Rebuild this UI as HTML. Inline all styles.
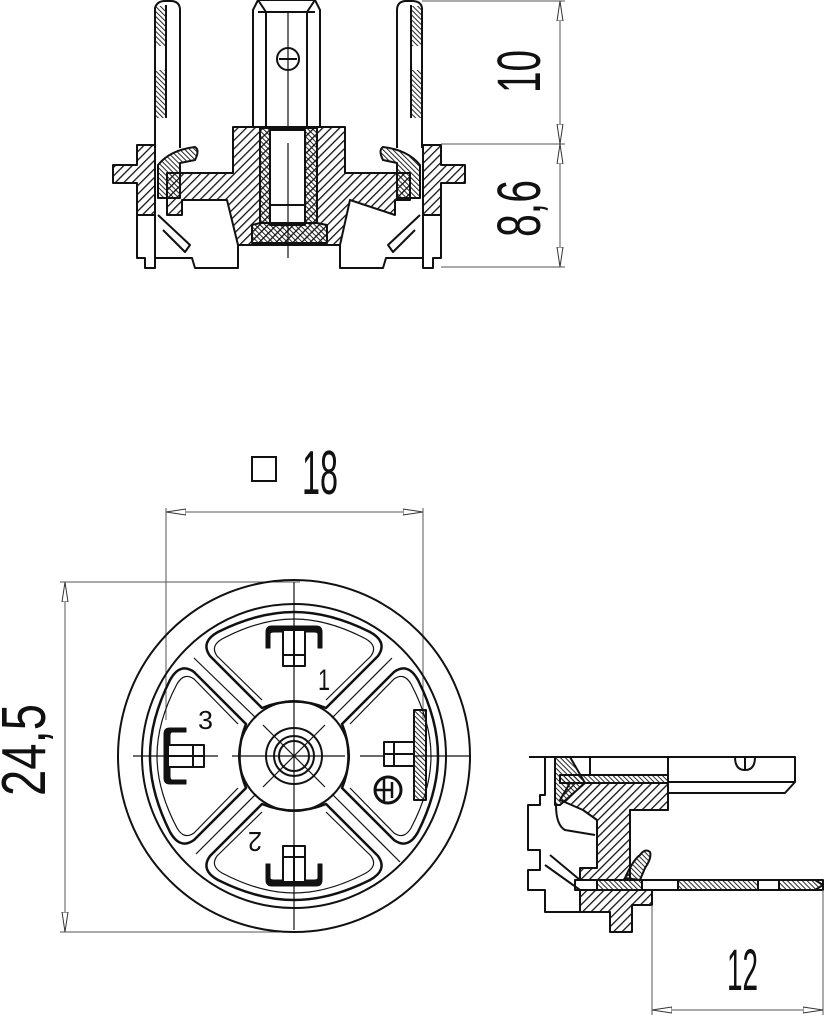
<!DOCTYPE html>
<html><head><meta charset="utf-8"><style>
html,body{margin:0;padding:0;background:#fff}
svg{display:block}
text{font-family:"Liberation Sans",sans-serif;fill:#111}
</style></head><body>
<svg width="825" height="1017" viewBox="0 0 825 1017" xmlns="http://www.w3.org/2000/svg">
<defs>
<pattern id="h" patternUnits="userSpaceOnUse" width="6" height="6" patternTransform="rotate(45)">
<line x1="0" y1="0" x2="0" y2="6" stroke="#111" stroke-width="2.6"/>
</pattern>
<pattern id="hf" patternUnits="userSpaceOnUse" width="3.5" height="3.5" patternTransform="rotate(-45)">
<line x1="0" y1="0" x2="0" y2="3.5" stroke="#111" stroke-width="1.8"/>
</pattern>
<marker id="a" viewBox="0 0 20 8" refX="20" refY="4" markerWidth="20" markerHeight="8" markerUnits="userSpaceOnUse" orient="auto-start-reverse">
<path d="M20,4 L0,1 L0,7 Z" fill="#fff" stroke="#333" stroke-width="1"/>
</marker>
</defs>

<!-- ============ TOP VIEW ============ -->
<g stroke="#111" stroke-width="2" fill="none" stroke-linejoin="round">
 <path d="M155,148 L155,8 Q157,1 165,1 L172,1 Q180,2 180,10 L180,148" fill="#fff"/>
 <rect x="155" y="6" width="11" height="40" fill="url(#hf)" stroke="none"/>
 <rect x="155" y="70" width="11" height="48" fill="url(#hf)" stroke="none"/>
 <line x1="166" y1="5" x2="166" y2="118"/>
 <path d="M397,148 L397,10 Q397,2 405,1 L412,1 Q421,1 422,8 L422,148" fill="#fff"/>
 <rect x="411" y="6" width="11" height="40" fill="url(#hf)" stroke="none"/>
 <rect x="411" y="70" width="11" height="48" fill="url(#hf)" stroke="none"/>
 <line x1="411" y1="5" x2="411" y2="118"/>
 <path d="M253,127 L253,10 L258,0 L315,0 L320,10 L320,127" fill="#fff"/>
 <line x1="258" y1="12" x2="315" y2="12"/>
 <line x1="266" y1="12" x2="266" y2="127"/><line x1="307" y1="12" x2="307" y2="127"/>
 <line x1="258" y1="0" x2="266" y2="12"/><line x1="315" y1="0" x2="307" y2="12"/>
 <circle cx="288" cy="59" r="11"/>
 <line x1="279" y1="59" x2="297" y2="59"/>
 <line x1="288" y1="12" x2="288" y2="127" stroke-width="1.2"/>
 <path d="M113,165 L137,165 L137,145 L155,145 L155,215 L137,215 L137,183 L113,183 Z" fill="url(#h)"/>
 <path d="M465,165 L441,165 L441,145 L423,145 L423,215 L441,215 L441,183 L465,183 Z" fill="url(#h)"/>
 <path d="M167,173 L233,173 L233,127 L345,127 L345,173 L410,173 L410,200 L395,200 L395,215 L350,200 L340,245 L238,245 L227,200 L182,200 L182,215 L167,215 Z" fill="url(#h)"/>
 <path d="M158,198 L158,165 Q170,150 195,147 Q200,150 195,160 L180,163 L180,198 Z" fill="url(#hf)"/>
 <path d="M420,198 L420,165 Q408,150 383,147 Q378,150 383,160 L397,163 L397,198 Z" fill="url(#hf)"/>
 <rect x="260" y="128" width="57" height="95" fill="url(#hf)"/>
 <rect x="270" y="130" width="35" height="95" fill="#fff"/>
 <line x1="270" y1="205" x2="305" y2="205"/>
 <path d="M252,225 L260,223 L317,223 L327,225 L327,243 L252,243 Z" fill="url(#hf)"/>
 <line x1="288" y1="143" x2="288" y2="258" stroke-width="1.2"/>
 <path d="M137,215 L137,258 L145,258 L145,268 L155,268 L155,258 L192,258 L195,268 L238,268 L238,245"/>
 <path d="M441,215 L441,258 L433,258 L433,268 L423,268 L423,258 L386,258 L383,268 L340,268 L340,245"/>
 <line x1="155" y1="215" x2="155" y2="258"/><line x1="423" y1="215" x2="423" y2="258"/>
 <path d="M158,215 L190,245 L185,252 L163,230"/>
 <path d="M420,215 L388,245 L393,252 L415,230"/>
</g>
<g stroke="#555" stroke-width="1">
 <line x1="422" y1="1" x2="565" y2="1"/>
 <line x1="441" y1="144" x2="565" y2="144"/>
 <line x1="441" y1="267" x2="565" y2="267"/>
 <line x1="560" y1="1" x2="560" y2="144" marker-start="url(#a)" marker-end="url(#a)"/>
 <line x1="560" y1="144" x2="560" y2="267" marker-start="url(#a)" marker-end="url(#a)"/>
</g>
<text transform="translate(540,93) rotate(-90)" font-size="61" textLength="43" lengthAdjust="spacingAndGlyphs">10</text>
<text transform="translate(540,237) rotate(-90)" font-size="61" textLength="57" lengthAdjust="spacingAndGlyphs">8,6</text>

<!-- ============ BOTTOM VIEW ============ -->
<g stroke="#555" stroke-width="1" fill="none">
 <line x1="166" y1="512" x2="423" y2="512" marker-start="url(#a)" marker-end="url(#a)"/>
 <line x1="166" y1="508" x2="166" y2="720"/>
 <line x1="423" y1="508" x2="423" y2="720"/>
 <line x1="60" y1="582" x2="300" y2="582"/>
 <line x1="60" y1="932" x2="300" y2="932"/>
 <line x1="65" y1="582" x2="65" y2="932" marker-start="url(#a)" marker-end="url(#a)"/>
</g>
<rect x="252" y="457" width="24" height="24" fill="none" stroke="#111" stroke-width="2"/>
<text x="302" y="494" font-size="62" textLength="36" lengthAdjust="spacingAndGlyphs">18</text>
<text transform="translate(45,796) rotate(-90)" font-size="62" textLength="92" lengthAdjust="spacingAndGlyphs">24,5</text>

<g stroke="#111" stroke-width="2" fill="none" stroke-linejoin="round">
 <circle cx="294" cy="756" r="176"/>
 <circle cx="294" cy="756" r="152"/>
 <circle cx="294" cy="756" r="55"/>
 <circle cx="294" cy="756" r="28"/>
 <circle cx="294" cy="756" r="20"/>
 <circle cx="294" cy="756" r="15"/>
 <g id="win">
  <path d="M262,708 L210,656 Q200,642 218,632 Q258,612 294,612 Q330,612 370,632 Q388,642 378,656 L326,708 Q294,695 262,708 Z" stroke-width="2.5"/>
  <path d="M262,700 L217,656 Q210,646 222,639 Q260,619 294,619 Q328,619 366,639 Q378,646 371,656 L326,700" stroke-width="1.2"/>
 </g>
 <use href="#win" transform="rotate(90 294 756)"/>
 <use href="#win" transform="rotate(180 294 756)"/>
 <use href="#win" transform="rotate(270 294 756)"/>
 <g stroke-width="1.2">
  <line x1="294" y1="582" x2="294" y2="930"/>
  <line x1="133" y1="756" x2="218" y2="756"/><line x1="232" y1="756" x2="345" y2="756"/><line x1="360" y1="756" x2="470" y2="756"/>
  <line x1="263" y1="725" x2="325" y2="787"/><line x1="263" y1="787" x2="325" y2="725"/>
  <line x1="332" y1="718" x2="392" y2="658"/><line x1="196" y1="854" x2="256" y2="794"/>
  <line x1="332" y1="794" x2="400" y2="862"/><line x1="194" y1="658" x2="256" y2="718"/>
 </g>
 <g id="c1">
  <path d="M266,648 L266,632 Q266,626 272,626 L316,626 Q322,626 322,632 L322,648 L318,648 L318,634 Q318,632 314,632 L274,632 Q270,632 270,634 L270,648 Z" fill="#111" stroke-width="1"/>
  <rect x="283" y="630" width="22" height="36" fill="#fff"/>
  <line x1="283" y1="655" x2="305" y2="655"/><line x1="294" y1="630" x2="294" y2="666"/>
 </g>
 <use href="#c1" transform="rotate(-90 294 756)"/>
 <use href="#c1" transform="rotate(180 294 756)"/>
 <rect x="414" y="710" width="12" height="90" fill="url(#hf)"/>
 <rect x="384" y="742" width="30" height="24" fill="#fff"/>
 <line x1="394" y1="742" x2="394" y2="766"/><line x1="384" y1="754" x2="414" y2="754"/>
 <circle cx="388" cy="790" r="13" stroke-width="3"/>
 <line x1="376" y1="790" x2="392" y2="790" stroke-width="2.5"/>
 <line x1="384" y1="779" x2="384" y2="801" stroke-width="2.5"/>
 <line x1="392" y1="782" x2="392" y2="798" stroke-width="2.5"/>
</g>
<text x="318" y="690" font-size="30" textLength="12" lengthAdjust="spacingAndGlyphs">1</text>
<text x="198" y="729" font-size="26" textLength="15" lengthAdjust="spacingAndGlyphs">3</text>
<text transform="translate(262,832) rotate(180)" font-size="28" textLength="14" lengthAdjust="spacingAndGlyphs">2</text>

<!-- ============ SIDE VIEW ============ -->
<g stroke="#111" stroke-width="2" fill="none" stroke-linejoin="round">
 <line x1="529" y1="757" x2="690" y2="757"/>
 <path d="M668,757 L795,757 L795,782 L785,793 L668,793"/>
 <line x1="668" y1="782" x2="795" y2="782"/>
 <path d="M735,757 Q735,770 745,770 Q755,770 755,757"/>
 <line x1="745" y1="757" x2="745" y2="770"/>
 <rect x="590" y="757" width="78" height="18" fill="#fff"/>
 <rect x="560" y="775" width="108" height="8" fill="url(#hf)"/>
 <path d="M555,757 L570,757 L585,783 L560,805 L555,805 Z" fill="url(#hf)"/>
 <path d="M560,800 L570,783 L668,783 L668,810 L630,810 L630,880 L580,880 L580,868 L597,868 L597,820 L583,810 Z" fill="url(#h)"/>
 <path d="M640,880 L625,878 Q633,860 640,855 Q645,848 650,852 Q652,858 645,868 L640,880 Z" fill="url(#hf)"/>
 <rect x="575" y="880" width="248" height="10" fill="#fff"/>
 <rect x="597" y="880" width="45" height="10" fill="url(#hf)"/>
 <rect x="678" y="880" width="80" height="10" fill="url(#hf)"/>
 <path d="M779,880 L815,880 L823,885 L815,890 L779,890 Z" fill="url(#hf)"/>
 <path d="M580,890 L652,890 L652,905 L632,905 L632,932 L610,932 L610,912 L580,912 Z" fill="url(#h)"/>
 <path d="M545,757 L545,795 L540,795 L540,805 L528,805 L528,850 L540,850 L540,870 L528,870 L528,890 L545,890 L545,912 L580,912"/>
 <path d="M550,855 L580,880 M545,865 L580,890"/>
 <path d="M556,805 Q556,825 565,830 L595,835"/>
</g>
<g stroke="#555" stroke-width="1">
 <line x1="652" y1="905" x2="652" y2="1015"/>
 <line x1="823" y1="890" x2="823" y2="1015"/>
 <line x1="652" y1="1010" x2="823" y2="1010" marker-start="url(#a)" marker-end="url(#a)"/>
</g>
<text x="727" y="990" font-size="58" textLength="31" lengthAdjust="spacingAndGlyphs">12</text>
</svg>
</body></html>
